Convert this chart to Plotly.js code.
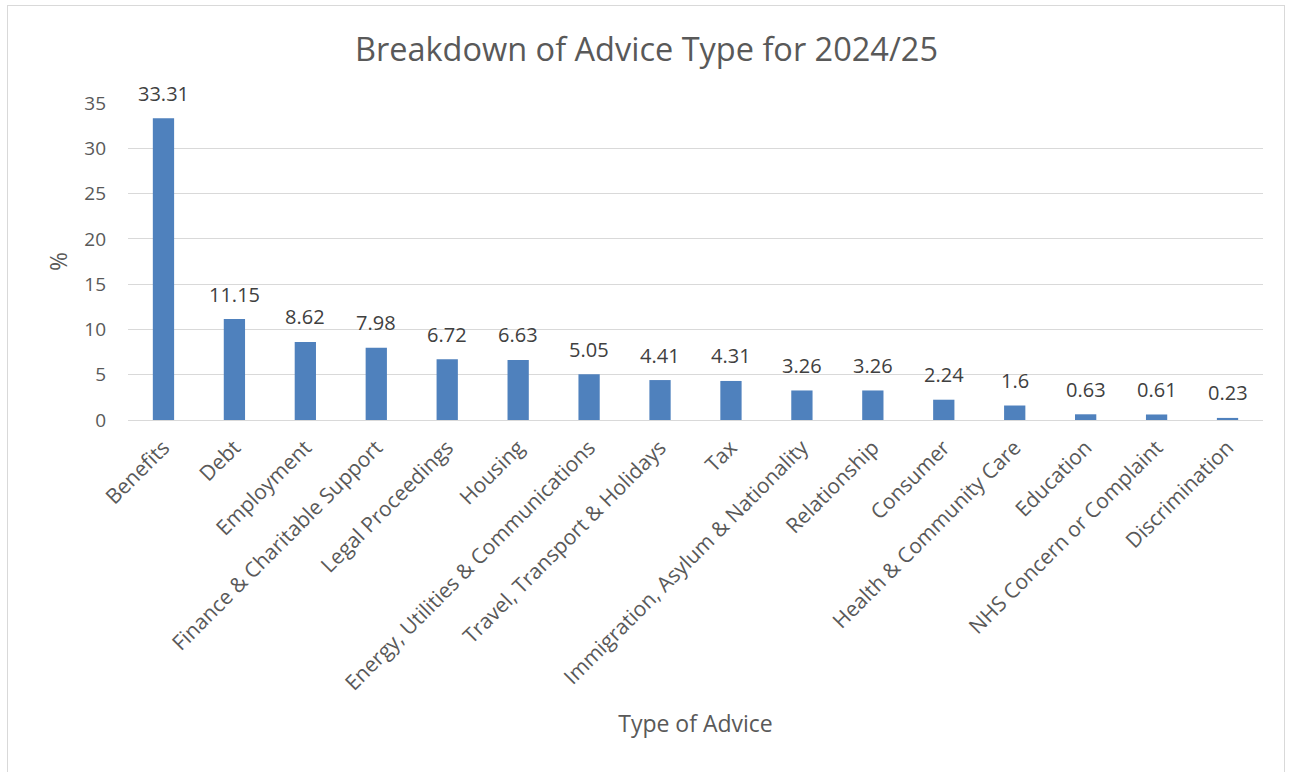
<!DOCTYPE html>
<html><head><meta charset="utf-8">
<script src="https://cdn.plot.ly/plotly-3.0.1.min.js"></script>
<style>
html,body{margin:0;padding:0;background:#fff;}
#chart{width:1293px;height:772px;}
#frame{position:absolute;left:7px;top:5px;width:1278px;height:780px;border:1px solid #d9d9d9;pointer-events:none;box-sizing:border-box;}
</style></head>
<body>
<div id="chart"></div>
<div id="frame"></div>
<script>
const categories = ["Benefits","Debt","Employment","Finance & Charitable Support","Legal Proceedings","Housing","Energy, Utilities & Communications","Travel, Transport & Holidays","Tax","Immigration, Asylum & Nationality","Relationship","Consumer","Health & Community Care","Education","NHS Concern or Complaint","Discrimination"];
const values = [33.31,11.15,8.62,7.98,6.72,6.63,5.05,4.41,4.31,3.26,3.26,2.24,1.6,0.63,0.61,0.23];
const yTicks = [0,5,10,15,20,25,30,35];

const FONT = "Open Sans, Noto Sans, sans-serif";
const trace = {
  type: "bar",
  x: categories,
  y: values,
  marker: {color: "#4F81BD", line: {width: 0}},
  hoverinfo: "x+y"
};
const labels = categories.map((c, i) => ({
  x: c, y: values[i], xref: "x", yref: "y",
  text: String(values[i]), showarrow: false,
  yanchor: "middle", yshift: 25,
  font: {family: FONT, size: 20, color: "#404040"}
}));
const layout = {
  width: 1293, height: 772,
  margin: {l: 128, r: 30, t: 103, b: 352},
  paper_bgcolor: "#fff", plot_bgcolor: "#fff",
  bargap: 0.7,
  showlegend: false,
  font: {family: FONT, color: "#595959"},
  title: {text: "Breakdown of Advice Type for 2024/25", font: {family: FONT, size: 32.5, color: "#595959"}, x: 0.5, xanchor: "center", y: 0.936, yanchor: "middle"},
  annotations: labels,
  xaxis: {
    tickangle: -45,
    tickfont: {family: FONT, size: 21, color: "#595959"},
    showline: true, linecolor: "#d9d9d9", linewidth: 1,
    ticks: "", showgrid: false,
    ticklabelstandoff: 6,
    title: {text: "Type of Advice", font: {family: FONT, size: 23, color: "#595959"}, standoff: 20},
    automargin: false
  },
  yaxis: {
    range: [0, 35],
    tickvals: yTicks,
    tickfont: {family: FONT, size: 19, color: "#595959"},
    gridcolor: "#d9d9d9", gridwidth: 1,
    zeroline: false, showline: false, ticks: "",
    ticklabelstandoff: 21,
    title: {text: "%", font: {family: FONT, size: 23, color: "#595959"}, standoff: 10},
    automargin: false
  }
};
Plotly.newPlot("chart", [trace], layout, {displayModeBar: false, staticPlot: true});
</script>
</body></html>
